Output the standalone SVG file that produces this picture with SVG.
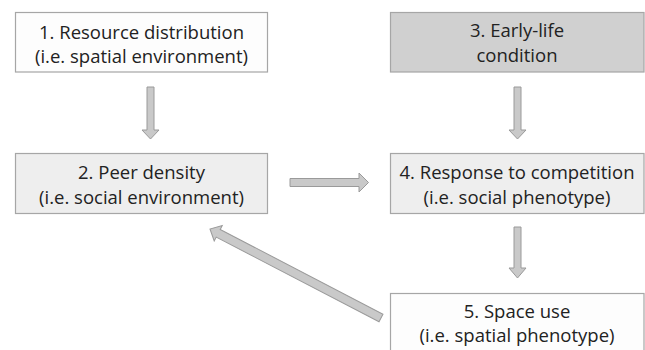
<svg xmlns="http://www.w3.org/2000/svg" width="645" height="350" viewBox="0 0 645 350">
  <style>
    .box { stroke: #a6a6a6; stroke-width: 1.2; }
    .w { fill: #fdfdfd; }
    .l { fill: #eeeeee; }
    .d { fill: #d0d0d0; }
    .t { font-family: "Open Sans", "Liberation Sans", sans-serif; font-size: 18.5px; fill: #222222; text-anchor: middle; }
    .arr { fill: #c9c9c9; stroke: #9a9a9a; stroke-width: 1; stroke-linejoin: miter; }
  </style>
  <rect width="645" height="350" fill="#ffffff"/>
  <g id="node1">
    <rect class="box w" x="15.5" y="12.5" width="252" height="59.5"/>
    <text class="t" x="141.5" y="38.5">1. Resource distribution</text>
    <text class="t" x="141.5" y="63">(i.e. spatial environment)</text>
  </g>
  <g id="node2">
    <rect class="box l" x="15.5" y="153.5" width="252" height="60"/>
    <text class="t" x="141.5" y="179">2. Peer density</text>
    <text class="t" x="141.5" y="203.5">(i.e. social environment)</text>
  </g>
  <g id="node3">
    <rect class="box d" x="390.5" y="12.5" width="253.5" height="59.5"/>
    <text class="t" x="517" y="37">3. Early-life</text>
    <text class="t" x="517" y="61.5">condition</text>
  </g>
  <g id="node4">
    <rect class="box l" x="390.5" y="153.5" width="253.5" height="60"/>
    <text class="t" x="517" y="179">4. Response to competition</text>
    <text class="t" x="517" y="203.5">(i.e. social phenotype)</text>
  </g>
  <g id="node5">
    <rect class="box w" x="390.5" y="293.5" width="253.5" height="70"/>
    <text class="t" x="517" y="317.5">5. Space use</text>
    <text class="t" x="517" y="342">(i.e. spatial phenotype)</text>
  </g>
  <g id="connectors">
    <polygon class="arr" points="147,87 154,87 154,130 159,130 150.5,139 142,130 147,130"/>
    <polygon class="arr" points="514,87 521,87 521,130 526,130 517.5,139 509,130 514,130"/>
    <polygon class="arr" points="514,227 521,227 521,268 526,268 517.5,278 509,268 514,268"/>
    <polygon class="arr" points="290,178.5 359,178.5 359,173 368.5,182.5 359,192 359,186.5 290,186.5"/>
    <g transform="translate(381,318) rotate(207.5)">
      <polygon class="arr" points="0,-4.3 183.5,-4.3 183.5,-8.7 192.8,0 183.5,8.7 183.5,4.3 0,4.3"/>
    </g>
  </g>
</svg>
